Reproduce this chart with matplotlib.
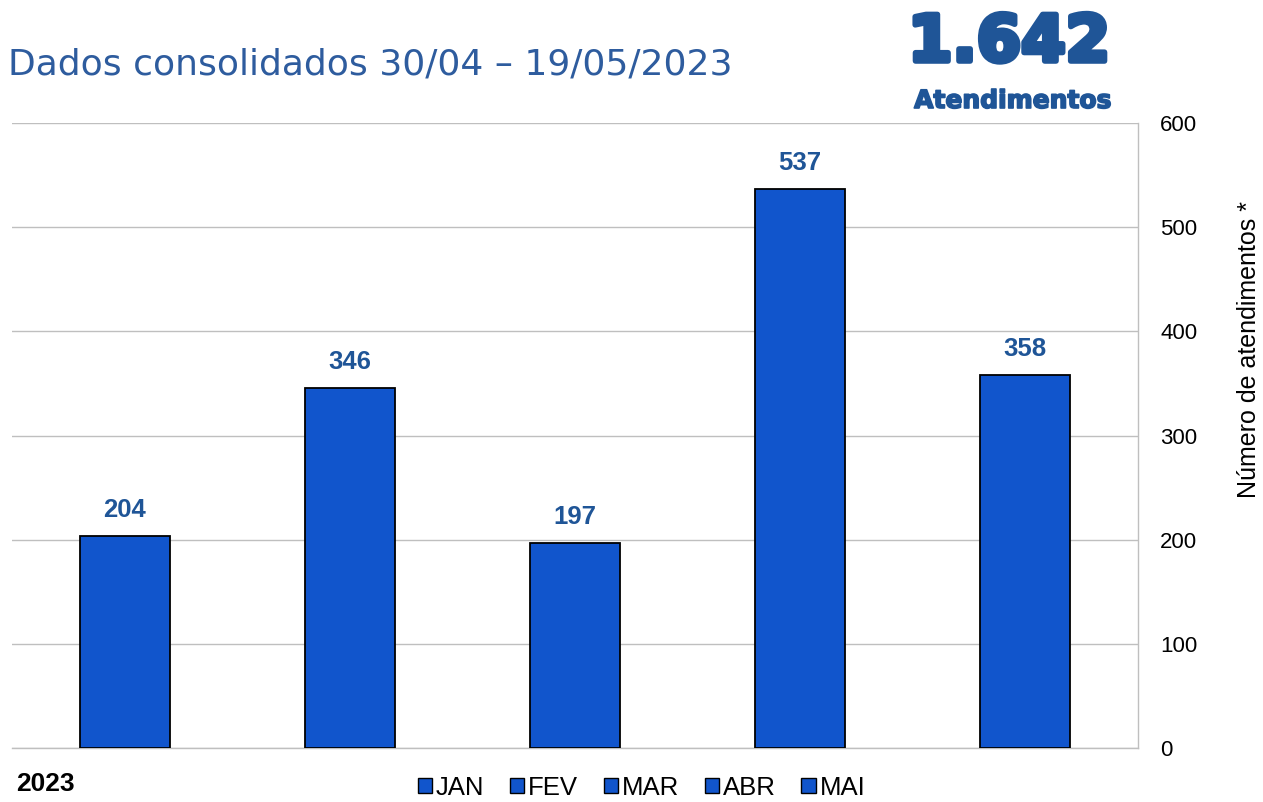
import matplotlib.pyplot as plt
import matplotlib.patheffects as pe
from matplotlib.patches import Patch

# data
meses   = ["JAN", "FEV", "MAR", "ABR", "MAI"]
valores = [204, 346, 197, 537, 358]
total   = "1.642"
titulo  = "Dados consolidados 30/04 – 19/05/2023"

BAR_C   = "#1155CC"
LAB_C   = "#1F5597"
GRID_C  = "#BFBFBF"

plt.rcParams['font.family'] = ['Liberation Sans', 'DejaVu Sans']

fig = plt.figure(figsize=(12.63, 8.02), dpi=100)
ax = fig.add_axes([12/1263, 1-748/802, (1138-12)/1263, (748-123)/802])

x = range(len(meses))
ax.bar(x, valores, width=0.4, color=BAR_C, edgecolor="black", lw=1.3, zorder=3)
for xi, v in zip(x, valores):
    ax.annotate(f"{v}", (xi, v), xytext=(0, 10), textcoords="offset points",
                ha="center", va="bottom", fontsize=18.5, fontweight="bold", color=LAB_C)

ax.set_xlim(-0.5, 4.5)
ax.set_ylim(0, 600)
ax.set_yticks(range(0, 601, 100))
ax.yaxis.tick_right()
ax.tick_params(axis="y", length=0, labelsize=16, pad=16)
ax.set_xticks([])
ax.grid(axis="y", color=GRID_C, lw=1, zorder=0)
for s in ("left", "top"):
    ax.spines[s].set_visible(False)
for s in ("right", "bottom"):
    ax.spines[s].set_color(GRID_C)
    ax.spines[s].set_linewidth(1)

fig.text(1249/1263, 1-350/802, "Número de atendimentos *", fontsize=18, rotation=90,
         ha="center", va="center")

# legend
handles = [Patch(facecolor=BAR_C, edgecolor="black", label=m) for m in meses]
fig.legend(handles=handles, loc="lower center", bbox_to_anchor=(0.508, -0.026), ncol=5,
           frameon=False, fontsize=18.5, handlelength=0.55, handleheight=0.55,
           handletextpad=0.15, columnspacing=1.0)

# texts
fig.text(8/1263, 1-64/802, titulo, fontsize=26, color="#2E5C9E", family="DejaVu Sans",
         ha="left", va="center")
t = fig.text(1110/1263, 1-43/802, total, fontsize=46, color=LAB_C, family="DejaVu Sans",
             fontweight="bold", ha="right", va="center")
t.set_path_effects([pe.withStroke(linewidth=4, foreground=LAB_C)])
t = fig.text(1112/1263, 1-101/802, "Atendimentos", fontsize=18, color=LAB_C, family="DejaVu Sans",
             fontweight="bold", ha="right", va="center")
t.set_path_effects([pe.withStroke(linewidth=1.2, foreground=LAB_C)])
fig.text(16/1263, 1-784/802, "2023", fontsize=19, fontweight="bold", ha="left", va="center")

fig.savefig("out.png", dpi=100)
